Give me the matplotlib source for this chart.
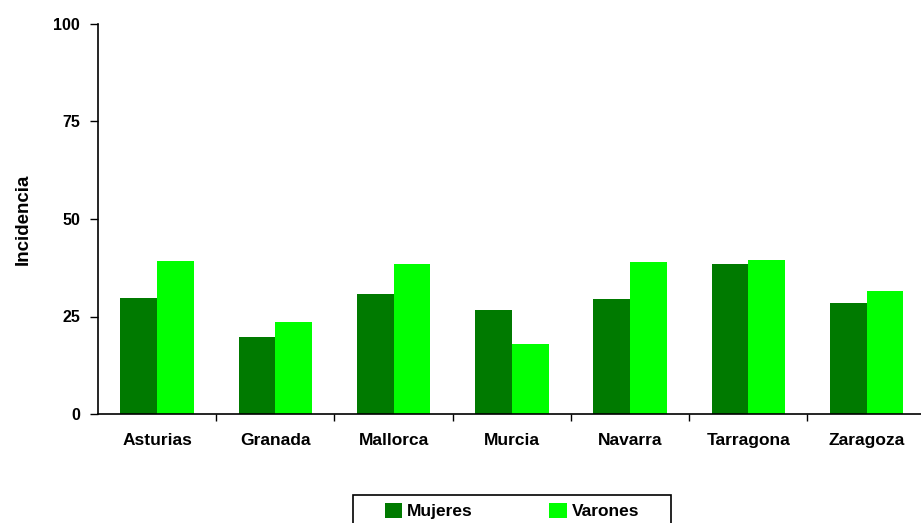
import numpy as np
import matplotlib
matplotlib.use('Agg')
import matplotlib.pyplot as plt
from matplotlib.patches import Rectangle

plt.rcParams['font.family'] = ['Liberation Sans', 'DejaVu Sans']
plt.rcParams['font.weight'] = 'bold'

regiones = ['Asturias', 'Granada', 'Mallorca', 'Murcia', 'Navarra', 'Tarragona', 'Zaragoza']
mujeres = [29.7, 19.8, 30.7, 26.6, 29.4, 38.4, 28.5]
varones = [39.3, 23.5, 38.4, 17.9, 38.9, 39.6, 31.5]
yticks = [0, 25, 50, 75, 100]

c_muj = '#007A00'
c_var = '#00FF00'

fig = plt.figure(figsize=(9.21, 5.23), dpi=100)
ax = fig.add_axes([98 / 921, 1 - 414 / 523, 1 - 98 / 921, (414 - 24) / 523])

x = np.arange(len(regiones))
w = 0.31
ax.bar(x - w / 2, mujeres, width=w, color=c_muj, label='Mujeres')
ax.bar(x + w / 2, varones, width=w, color=c_var, label='Varones')

ax.set_xlim(-0.5, 6.46)
ax.set_ylim(0, 100)
ax.set_yticks(yticks)
ax.set_yticklabels([str(v) for v in yticks], fontsize=11.5, fontweight='bold')
ax.set_xticks(x)
ax.set_xticklabels(regiones, fontsize=12.5, fontweight='bold')
ax.set_xticks(np.arange(len(regiones) - 1) + 0.5, minor=True)
ax.tick_params(axis='x', which='major', length=0, pad=14)
ax.tick_params(axis='x', which='minor', length=5, width=1, direction='out')
ax.tick_params(axis='y', length=6, width=1, direction='out', pad=7)

for s in ['top', 'right']:
    ax.spines[s].set_visible(False)
ax.spines['left'].set_linewidth(1.2)
ax.spines['bottom'].set_linewidth(1.2)

ax.set_ylabel('Incidencia', fontsize=13.5, fontweight='bold')
ax.yaxis.set_label_coords(-0.081, 0.5)

# leyenda sin marco; el marco se dibuja aparte (queda cortado abajo)
fig.legend(loc='center', bbox_to_anchor=(512 / 921, 1 - 511 / 523),
           ncol=2, frameon=False,
           prop={'size': 12.5, 'weight': 'bold'}, handlelength=1.0, handleheight=1.0,
           handletextpad=0.3, columnspacing=4.4, borderpad=0, borderaxespad=0)
fig.patches.append(Rectangle((353 / 921, -0.02), (671 - 353) / 921, 0.02 + 28 / 523,
                             transform=fig.transFigure, fill=False,
                             edgecolor='black', linewidth=1.2))

fig.savefig('out.png', dpi=100)
